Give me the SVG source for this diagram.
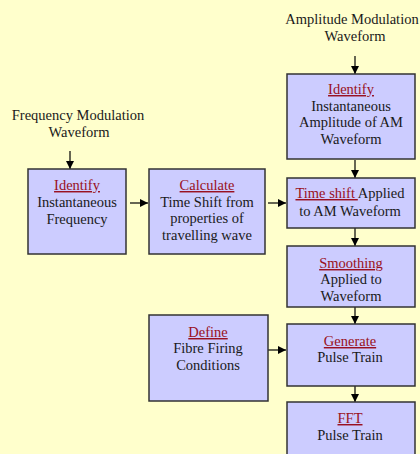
<svg xmlns="http://www.w3.org/2000/svg" width="420" height="454" viewBox="0 0 420 454">
<defs>
<style>
.bg{fill:#FFFFCC}
.box{fill:#CCCCFF;stroke:#333333;stroke-width:1.5}
text{font-family:"Liberation Serif","Times New Roman",serif;font-size:14.5px;fill:#1a1a1a;text-anchor:middle}
.t{fill:#991122;text-decoration:underline}
.c{stroke:#000;stroke-width:1.2;fill:none;marker-end:url(#ah)}
</style>
<marker id="ah" viewBox="0 0 10 10" refX="10" refY="5" markerWidth="8" markerHeight="8" markerUnits="userSpaceOnUse" orient="auto">
<path d="M0,0 L10,5 L0,10 z" fill="#000"/>
</marker>
</defs>
<rect class="bg" x="0" y="0" width="420" height="454"/>

<g id="label-am">
<text x="352" y="24">Amplitude Modulation</text>
<text x="355" y="41">Waveform</text>
</g>
<g id="label-fm">
<text x="78" y="120">Frequency Modulation</text>
<text x="79" y="137">Waveform</text>
</g>

<g id="connectors">
<line class="c" x1="355" y1="56" x2="355" y2="74"/>
<line class="c" x1="70" y1="151" x2="70" y2="169"/>
<line class="c" x1="130" y1="203" x2="148" y2="203"/>
<line class="c" x1="268" y1="203" x2="286" y2="203"/>
<line class="c" x1="355" y1="160" x2="355" y2="178"/>
<line class="c" x1="355" y1="228" x2="355" y2="246"/>
<line class="c" x1="355" y1="307" x2="355" y2="324"/>
<line class="c" x1="268" y1="350" x2="286" y2="350"/>
<line class="c" x1="355" y1="386" x2="355" y2="402"/>
</g>

<g id="am-identify">
<rect class="box" x="287" y="74" width="128" height="85"/>
<text x="351" y="94"><tspan class="t">Identify</tspan></text>
<text x="351" y="111">Instantaneous</text>
<text x="351" y="127">Amplitude of AM</text>
<text x="351" y="144">Waveform</text>
</g>

<g id="fm-identify">
<rect class="box" x="28" y="169" width="98" height="85"/>
<text x="77" y="190"><tspan class="t">Identify</tspan></text>
<text x="77" y="207">Instantaneous</text>
<text x="77" y="224">Frequency</text>
</g>

<g id="calculate">
<rect class="box" x="149" y="169" width="116" height="85"/>
<text x="207" y="190"><tspan class="t">Calculate</tspan></text>
<text x="207" y="207">Time Shift from</text>
<text x="207" y="223">properties of</text>
<text x="207" y="240">travelling wave</text>
</g>

<g id="time-shift">
<rect class="box" x="287" y="178" width="128" height="50"/>
<text x="350" y="198" style="white-space:pre"><tspan class="t">Time shift </tspan>Applied</text>
<text x="350" y="216">to AM Waveform</text>
</g>

<g id="smoothing">
<rect class="box" x="287" y="246" width="128" height="61"/>
<text x="351" y="268"><tspan class="t">Smoothing</tspan></text>
<text x="351" y="284">Applied to</text>
<text x="351" y="301">Waveform</text>
</g>

<g id="define">
<rect class="box" x="149" y="315" width="119" height="86"/>
<text x="208" y="337"><tspan class="t">Define</tspan></text>
<text x="208" y="353">Fibre Firing</text>
<text x="208" y="370">Conditions</text>
</g>

<g id="generate">
<rect class="box" x="287" y="324" width="128" height="62"/>
<text x="350" y="346"><tspan class="t">Generate</tspan></text>
<text x="350" y="362">Pulse Train</text>
</g>

<g id="fft">
<rect class="box" x="287" y="402" width="128" height="60"/>
<text x="350" y="423"><tspan class="t">FFT</tspan></text>
<text x="350" y="440">Pulse Train</text>
</g>
</svg>
